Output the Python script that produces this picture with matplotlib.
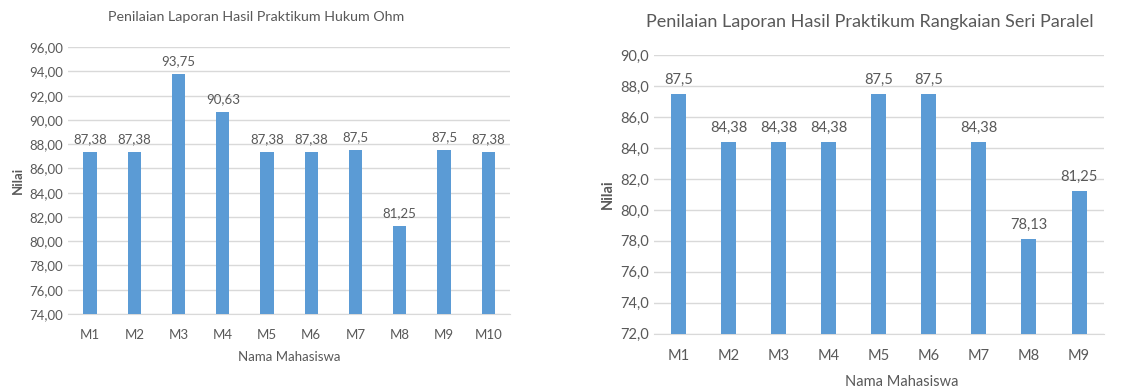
import matplotlib.pyplot as plt
from matplotlib.ticker import FuncFormatter

plt.rcParams["font.family"] = ["Lato", "DejaVu Sans"]

names_ohm = ["M1", "M2", "M3", "M4", "M5", "M6", "M7", "M8", "M9", "M10"]
nilai_ohm = [87.38, 87.38, 93.75, 90.63, 87.38, 87.38, 87.5, 81.25, 87.5, 87.38]
labels_ohm = ["87,38", "87,38", "93,75", "90,63", "87,38", "87,38", "87,5", "81,25", "87,5", "87,38"]

names_seri = ["M1", "M2", "M3", "M4", "M5", "M6", "M7", "M8", "M9"]
nilai_seri = [87.5, 84.38, 84.38, 84.38, 87.5, 87.5, 84.38, 78.13, 81.25]
labels_seri = ["87,5", "84,38", "84,38", "84,38", "87,5", "87,5", "84,38", "78,13", "81,25"]

BAR = "#5B9BD5"
TXT = "#595959"
GRID = "#D9D9D9"


def draw(ax, names, vals, labels, title, ylim, fmt, fs, tfs, pad, tpos, xlpos):
    x = range(len(names))
    ax.bar(x, vals, width=0.3, color=BAR, zorder=3)
    ax.set_xlim(-0.5, len(names) - 0.5)
    ax.set_ylim(*ylim)
    ax.set_yticks(range(ylim[0], ylim[1] + 1, 2))
    ax.yaxis.set_major_formatter(FuncFormatter(lambda v, p: fmt.format(v).replace(".", ",")))
    ax.set_xticks(list(x))
    ax.set_xticklabels(names)
    ax.grid(axis="y", color=GRID, linewidth=1, zorder=0)
    for s in ["top", "right", "left"]:
        ax.spines[s].set_visible(False)
    ax.spines["bottom"].set_color(GRID)
    ax.tick_params(length=0, colors=TXT, labelsize=fs)
    ax.tick_params(axis="x", pad=pad)
    for xi, v, lab in zip(x, vals, labels):
        ax.annotate(lab, (xi, v), xytext=(0, 5), textcoords="offset points",
                    ha="center", va="bottom", color=TXT, fontsize=fs)
    ax.text(tpos[0], tpos[1], title, transform=ax.transAxes, color=TXT,
            fontsize=tfs, ha="center", va="center")
    ax.set_ylabel("Nilai", color=TXT, fontsize=fs, fontweight="bold")
    ax.set_xlabel("Nama Mahasiswa", color=TXT, fontsize=fs, va="center")
    ax.xaxis.set_label_coords(*xlpos)


fig = plt.figure(figsize=(11.37, 3.9), dpi=100)
ax1 = fig.add_axes([0.0598, 0.195, 0.389, 0.684])
ax2 = fig.add_axes([0.575, 0.144, 0.396, 0.715])

draw(ax1, names_ohm, nilai_ohm, labels_ohm,
     "Penilaian Laporan Hasil Praktikum Hukum Ohm", (74, 96), "{:.2f}",
     9.5, 10.3, 11, (0.425, 1.112), (0.5, -0.161))
draw(ax2, names_seri, nilai_seri, labels_seri,
     "Penilaian Laporan Hasil Praktikum Rangkaian Seri Paralel", (72, 90), "{:.1f}",
     10.5, 13, 11, (0.48, 1.118), (0.551, -0.172))

fig.savefig("out.png", dpi=100)
